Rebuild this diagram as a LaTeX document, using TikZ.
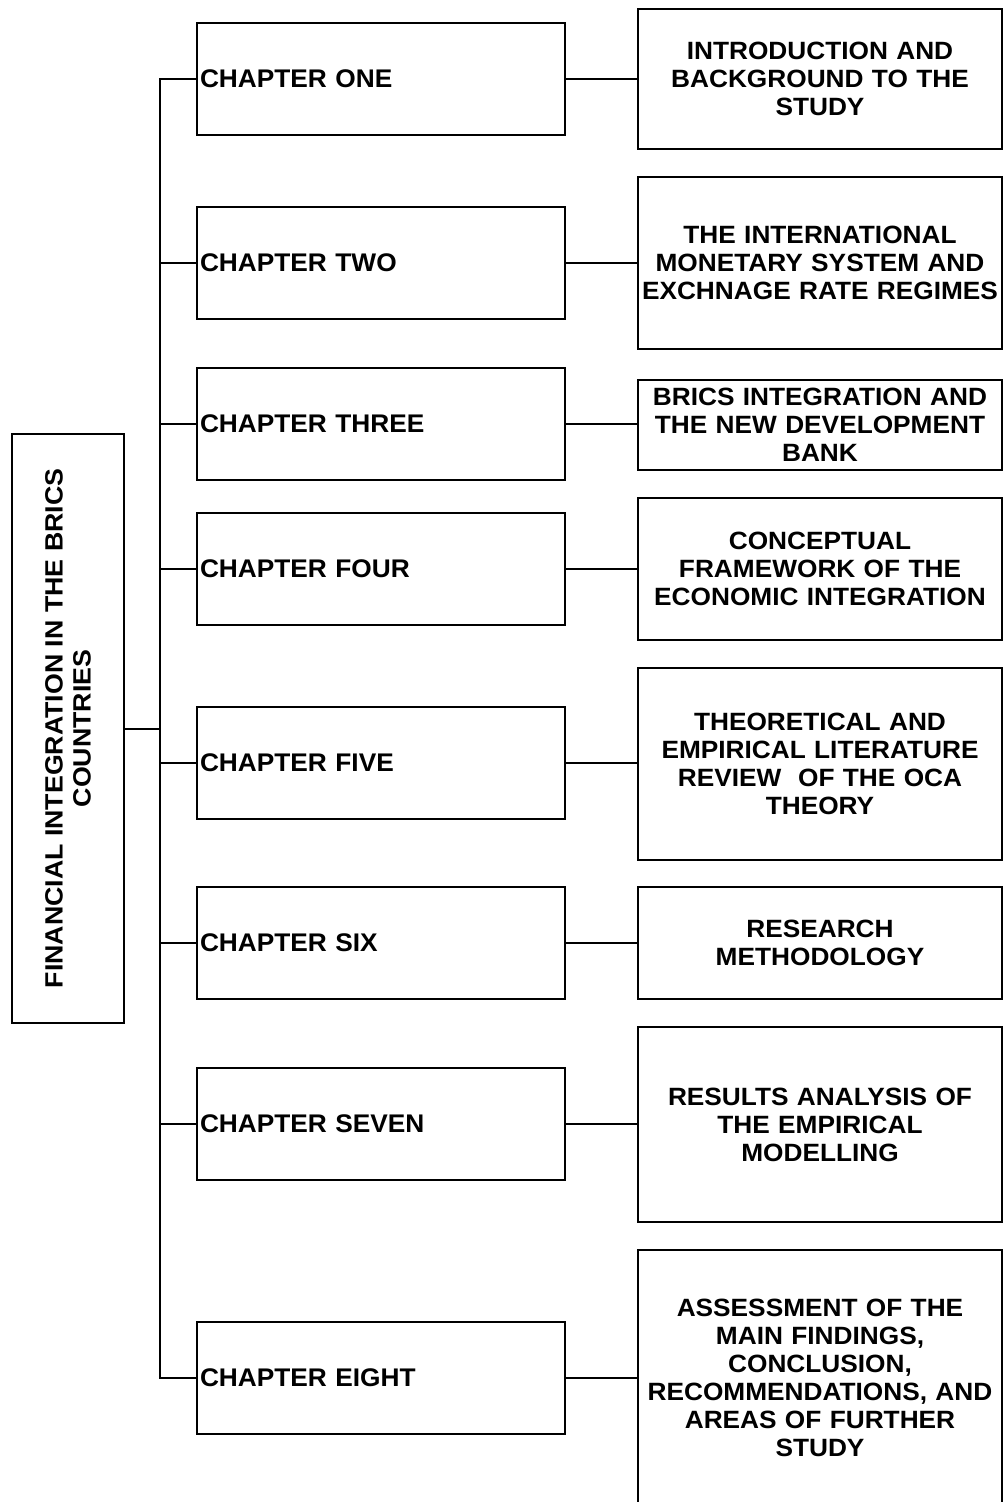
\documentclass[tikz,border=0pt]{standalone}
\usepackage{fontspec}
\setmainfont{Liberation Sans}
\newfontfamily\chapfont{Liberation Sans}[FakeStretch=1.03]
\newfontfamily\descfont{Liberation Sans}[FakeStretch=1.05]
\newfontfamily\titlefont{Liberation Sans}[FakeStretch=1.07]

\tikzset{
  box/.style={draw, line width=2.4pt, inner ysep=0pt},
  chapbox/.style={box, minimum height=112pt, text width=362pt, inner xsep=3pt,
    align=left, font=\chapfont\bfseries\fontsize{25.5}{28}\selectfont},
  descbox/.style={box, text width=360pt, inner xsep=2pt, align=center,
    font=\descfont\bfseries\fontsize{25}{28}\selectfont},
  titlebox/.style={box, rotate=90, minimum width=589pt, minimum height=112pt,
    inner xsep=0pt, align=center, font=\titlefont\bfseries\fontsize{25}{28}\selectfont},
  link/.style={line width=2pt},
}

\begin{document}
\begin{tikzpicture}[x=1pt, y=-1pt]
\useasboundingbox (0,0) rectangle (1003,1502);
\clip (0,0) rectangle (1003,1502);

% title box
\node[titlebox] (main) at (68,728.5) {FINANCIAL INTEGRATION IN THE BRICS\\COUNTRIES};
\coordinate (hub) at (160,728.5);

% chapter boxes
\node[chapbox] (c1) at (381,79)   {CHAPTER ONE};
\node[chapbox] (c2) at (381,263)  {CHAPTER TWO};
\node[chapbox] (c3) at (381,424)  {CHAPTER THREE};
\node[chapbox] (c4) at (381,569)  {CHAPTER FOUR};
\node[chapbox] (c5) at (381,763)  {CHAPTER FIVE};
\node[chapbox] (c6) at (381,943)  {CHAPTER SIX};
\node[chapbox] (c7) at (381,1124) {CHAPTER SEVEN};
\node[chapbox] (c8) at (381,1378) {CHAPTER EIGHT};

% chapter descriptions
\node[descbox, minimum height=140pt] (d1) at (820,79)
  {INTRODUCTION AND\\BACKGROUND TO THE\\STUDY};
\node[descbox, minimum height=172pt] (d2) at (820,263)
  {THE INTERNATIONAL\\MONETARY SYSTEM AND\\EXCHNAGE RATE REGIMES};
\node[descbox, minimum height=90pt] (d3) at (820,425)
  {BRICS INTEGRATION AND\\THE NEW DEVELOPMENT\\BANK};
\node[descbox, minimum height=142pt] (d4) at (820,569)
  {CONCEPTUAL\\FRAMEWORK OF THE\\ECONOMIC INTEGRATION};
\node[descbox, minimum height=192pt] (d5) at (820,764)
  {THEORETICAL AND\\EMPIRICAL LITERATURE\\REVIEW~ OF THE OCA\\THEORY};
\node[descbox, minimum height=112pt] (d6) at (820,943)
  {RESEARCH\\METHODOLOGY};
\node[descbox, minimum height=195pt] (d7) at (820,1124.5)
  {RESULTS ANALYSIS OF\\THE EMPIRICAL\\MODELLING};
\node[descbox, minimum height=256pt] (d8) at (820,1378)
  {ASSESSMENT OF THE\\MAIN FINDINGS,\\CONCLUSION,\\RECOMMENDATIONS, AND\\AREAS OF FURTHER\\STUDY};

% tree connectors
\draw[link] (main.south) -- (hub);
\foreach \i in {1,...,8} {
  \draw[link] (c\i.west) -| (hub);
  \draw[link] (c\i.east) -- (c\i.east -| d\i.west);
}
\end{tikzpicture}
\end{document}
